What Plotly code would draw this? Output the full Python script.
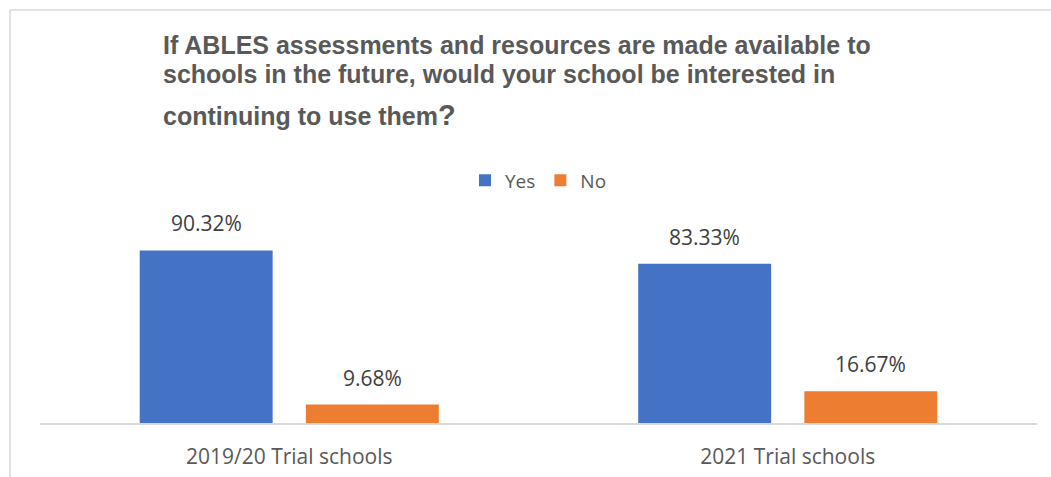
import plotly.graph_objects as go

# Survey responses (percent of schools)
categories = ["2019/20 Trial schools", "2021 Trial schools"]
series_names = ["Yes", "No"]
yes_values = [90.32, 83.33]
no_values = [9.68, 16.67]

colors = {"Yes": "#4472C4", "No": "#ED7D31"}
BARGAP = 1 / 3
BARGROUPGAP = 0.2
LABEL_FONT = "Open Sans"

x_idx = list(range(len(categories)))
series = {"Yes": yes_values, "No": no_values}

fig = go.Figure()
for name in series_names:
    fig.add_trace(go.Bar(
        x=x_idx,
        y=series[name],
        name=name,
        marker=dict(color=colors[name], line=dict(width=0)),
        hoverinfo="skip",
    ))

# value labels above each bar, placed at the centre of its slot in the group
n = len(series_names)
slot = (1 - BARGAP) / n
for j, name in enumerate(series_names):
    for i, v in zip(x_idx, series[name]):
        fig.add_annotation(
            x=i + (j - (n - 1) / 2) * slot,
            y=v,
            xref="x", yref="y",
            text=f"{v:.2f}%",
            showarrow=False,
            yanchor="middle",
            yshift=27,
            font=dict(family=LABEL_FONT, size=21, color="#404040"),
        )

# title, three lines with a larger question mark on the last
title_lines = [
    ("If ABLES assessments and resources are made available to", 1.978),
    ("schools in the future, would your school be interested in", 1.828),
    ("continuing to use them<span style='font-size:29px'>?</span>", 1.612),
]
for txt, ypos in title_lines:
    fig.add_annotation(
        x=0.121, y=ypos, xref="paper", yref="paper",
        xanchor="left", yanchor="middle",
        text=f"<b>{txt}</b>",
        showarrow=False,
        font=dict(family="Liberation Sans, Arial", size=25, color="#595959"),
    )

# light frame around the chart area
fig.add_shape(
    type="rect", xref="paper", yref="paper",
    x0=-0.0301, x1=1.05, y0=-0.4, y1=2.162,
    line=dict(color="#D9D9D9", width=1.5),
    fillcolor="rgba(0,0,0,0)", layer="below",
)

fig.update_layout(
    width=1051, height=477,
    margin=dict(l=40, r=14, t=232, b=54, autoexpand=False),
    paper_bgcolor="white",
    plot_bgcolor="white",
    barmode="group",
    bargap=BARGAP,
    bargroupgap=BARGROUPGAP,
    showlegend=True,
    legend=dict(
        orientation="h",
        x=0.5, xanchor="center",
        y=1.27, yanchor="middle",
        font=dict(family=LABEL_FONT, size=19, color="#595959"),
        itemclick=False, itemdoubleclick=False,
    ),
    xaxis=dict(
        range=[-0.5, len(categories) - 0.5],
        tickvals=x_idx,
        ticktext=categories,
        showline=True,
        linecolor="#D9D9D9",
        linewidth=1.5,
        ticks="",
        showgrid=False,
        zeroline=False,
        automargin=False,
        ticklabelstandoff=14,
        tickfont=dict(family=LABEL_FONT, size=21, color="#595959"),
        fixedrange=True,
    ),
    yaxis=dict(
        range=[0, 100],
        visible=False,
        showgrid=False,
        zeroline=False,
        automargin=False,
        fixedrange=True,
    ),
)

fig.write_html("out.html")
